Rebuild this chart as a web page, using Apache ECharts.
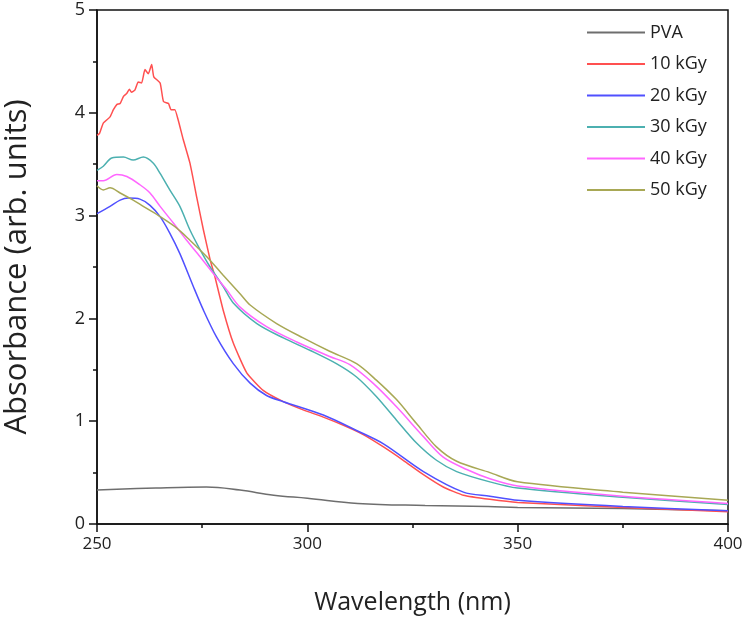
<!DOCTYPE html>
<html><head><meta charset="utf-8">
<script src="https://cdn.jsdelivr.net/npm/echarts@6/dist/echarts.min.js"></script>
<style>html,body{margin:0;padding:0;background:#fff}#c{width:748px;height:622px}</style>
</head><body><div id="c"></div>
<script>
var seriesNames = ['PVA', '10 kGy', '20 kGy', '30 kGy', '40 kGy', '50 kGy'];
var xTicks = [250, 300, 350, 400];
var yTicks = [0, 1, 2, 3, 4, 5];

var pva = [[250,0.33],[264,0.35],[276,0.36],[284,0.33],[292,0.28],[300,0.25],[312,0.20],[328,0.18],[343,0.17],[350,0.16],[375,0.15],[400,0.13]];
var kGy10 = [[250,3.78],[250.6,3.80],[251.5,3.90],[253.1,3.96],[253.9,4.03],[254.7,4.08],[255.5,4.09],[256.3,4.16],[257.1,4.19],[257.7,4.23],[258.2,4.20],[259,4.22],[259.8,4.30],[260.6,4.29],[261.4,4.42],[262.2,4.38],[263,4.47],[263.5,4.35],[265,4.29],[265.8,4.11],[267,4.09],[267.6,4.03],[268.5,4.03],[269.3,3.93],[270.5,3.74],[272.1,3.51],[273.7,3.18],[275.3,2.86],[276.9,2.57],[278,2.41],[280,2.08],[282.4,1.76],[285.6,1.47],[289.5,1.30],[294.3,1.19],[299,1.11],[303.8,1.04],[308.6,0.96],[313.3,0.87],[318.1,0.75],[322.8,0.62],[327.6,0.48],[332.3,0.36],[337.1,0.28],[343.4,0.24],[350,0.21],[375,0.16],[400,0.12]];
var kGy20 = [[250,3.02],[253.1,3.09],[255.5,3.15],[257.4,3.17],[260.2,3.16],[262.6,3.10],[265,2.99],[267.3,2.83],[269.7,2.63],[272.9,2.31],[275.3,2.08],[278.4,1.82],[282.4,1.56],[286.4,1.37],[290.3,1.25],[294.3,1.19],[303.8,1.06],[311.7,0.91],[318.1,0.78],[327.6,0.51],[337.1,0.31],[343.4,0.27],[350,0.23],[375,0.17],[400,0.13]];
var kGy30 = [[250,3.44],[251.5,3.48],[253.5,3.56],[256.3,3.57],[258.6,3.54],[261,3.57],[263.4,3.51],[265,3.41],[267.3,3.25],[269.7,3.09],[272.1,2.86],[274.5,2.67],[276.9,2.50],[280,2.31],[282.4,2.15],[288,1.95],[294.3,1.81],[300.6,1.69],[306.9,1.56],[311.7,1.43],[316.4,1.24],[321.2,1.01],[325.9,0.79],[330.7,0.62],[335.5,0.51],[343.4,0.41],[350,0.35],[375,0.26],[400,0.19]];
var kGy40 = [[250,3.34],[251.5,3.34],[254.7,3.40],[257.1,3.38],[260.2,3.30],[262.6,3.22],[265,3.09],[268.1,2.93],[271.3,2.76],[274.5,2.60],[277.6,2.44],[280.8,2.28],[284,2.11],[290.3,1.92],[297.5,1.77],[305.3,1.63],[310.1,1.55],[315.6,1.37],[321.2,1.14],[327.6,0.85],[332.3,0.65],[337.9,0.53],[343.4,0.44],[350,0.37],[375,0.27],[400,0.20]];
var kGy50 = [[250,3.29],[251.5,3.25],[253.1,3.27],[255.5,3.22],[258.6,3.15],[261.8,3.07],[265,2.99],[268.9,2.88],[272.1,2.76],[276.1,2.60],[280,2.42],[284,2.24],[286.4,2.13],[292.7,1.95],[299,1.81],[305.3,1.68],[311.7,1.56],[316.4,1.40],[321.2,1.21],[325.9,0.98],[330.7,0.75],[335.5,0.61],[343.4,0.50],[350,0.41],[375,0.31],[400,0.23]];

var dataSets = [pva, kGy10, kGy20, kGy30, kGy40, kGy50];
var colors = ['#6e6e6e', '#ff5050', '#5050ff', '#4cb0b0', '#ff66ff', '#a8a855'];
var smooths = [0.4, 0.15, 0.3, 0.3, 0.3, 0.3];

var FONT = '"Open Sans", sans-serif';
var chart = echarts.init(document.getElementById('c'));
chart.setOption({
  animation: false,
  backgroundColor: '#fff',
  grid: {left: 97, right: 20, top: 10, bottom: 98, outerBoundsMode: 'none', containLabel: false, show: true, borderColor: '#111', borderWidth: 1.5, backgroundColor: 'transparent'},
  legend: {
    left: 582, top: 18, orient: 'vertical', itemGap: 12.5, itemWidth: 58, itemHeight: 10,
    icon: 'path://M0,4 L58,4 L58,6 L0,6 Z',
    data: seriesNames.map(function(n, i){ return {name: n, itemStyle: {color: colors[i]}}; }),
    textStyle: {fontFamily: FONT, fontSize: 18, lineHeight: 19, color: '#222', padding: [0,0,0,0]}
  },
  xAxis: {
    type: 'value', min: 250, max: 400, interval: 50,
    name: 'Wavelength (nm)', nameLocation: 'middle', nameGap: 66,
    nameTextStyle: {fontFamily: FONT, fontSize: 25, color: '#222'},
    axisLine: {onZero: false, lineStyle: {color: '#111', width: 1.5}},
    axisTick: {show: true, inside: false, length: 8, lineStyle: {color: '#111', width: 1.5}},
    minorTick: {show: true, splitNumber: 2, length: 4, lineStyle: {color: '#111', width: 1.5}},
    axisLabel: {fontFamily: FONT, fontSize: 17, color: '#222', margin: 12, formatter: function(v){ return xTicks.indexOf(v) >= 0 ? String(v) : ''; }},
    splitLine: {show: false}
  },
  yAxis: {
    type: 'value', min: 0, max: 5, interval: 1,
    name: 'Absorbance (arb. units)', nameLocation: 'middle', nameGap: 64,
    nameTextStyle: {fontFamily: FONT, fontSize: 31, color: '#222'},
    axisLine: {onZero: false, lineStyle: {color: '#111', width: 1.5}},
    axisTick: {show: true, inside: false, length: 8, lineStyle: {color: '#111', width: 1.5}},
    minorTick: {show: true, splitNumber: 2, length: 4, lineStyle: {color: '#111', width: 1.5}},
    axisLabel: {fontFamily: FONT, fontSize: 18, color: '#222', margin: 12, formatter: function(v){ return yTicks.indexOf(v) >= 0 ? String(v) : ''; }},
    splitLine: {show: false}
  },
  series: seriesNames.map(function(n, i){
    return {name: n, type: 'line', data: dataSets[i], showSymbol: false, smooth: smooths[i],
      lineStyle: {color: colors[i], width: 1.5}, itemStyle: {color: colors[i]}, z: i === 0 ? 2 : 3};
  })
});
</script></body></html>
